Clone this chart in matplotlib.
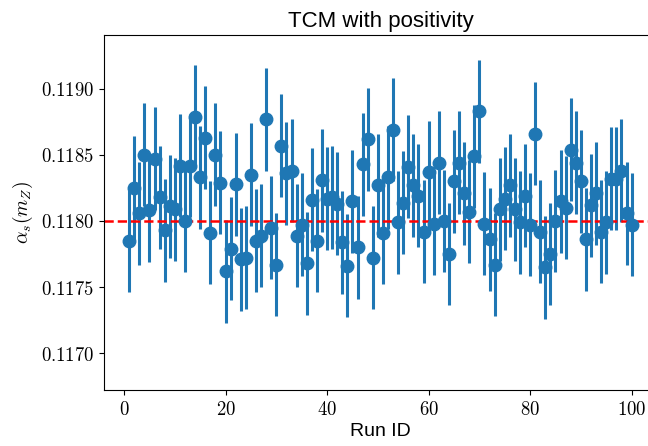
import numpy as np
import matplotlib
matplotlib.use("Agg")
import matplotlib.pyplot as plt
from matplotlib.ticker import FuncFormatter

# alpha_s(m_Z) fitted per replica run
run_id = list(range(1, 101))
alpha_s = [
    0.11785, 0.11825, 0.11806, 0.11850, 0.11808, 0.11847, 0.11818, 0.11793, 0.11811, 0.11809,
    0.11842, 0.11800, 0.11842, 0.11879, 0.11833, 0.11863, 0.11791, 0.11850, 0.11829, 0.11762,
    0.11779, 0.11828, 0.11771, 0.11772, 0.11835, 0.11785, 0.11789, 0.11877, 0.11795, 0.11767,
    0.11857, 0.11836, 0.11838, 0.11789, 0.11797, 0.11768, 0.11816, 0.11785, 0.11831, 0.11817,
    0.11818, 0.11813, 0.11784, 0.11766, 0.11815, 0.11780, 0.11843, 0.11862, 0.11772, 0.11827,
    0.11791, 0.11833, 0.11869, 0.11799, 0.11814, 0.11841, 0.11827, 0.11819, 0.11792, 0.11837,
    0.11798, 0.11844, 0.11800, 0.11775, 0.11830, 0.11844, 0.11821, 0.11807, 0.11849, 0.11883,
    0.11798, 0.11786, 0.11767, 0.11809, 0.11817, 0.11827, 0.11809, 0.11799, 0.11819, 0.11797,
    0.11866, 0.11792, 0.11765, 0.11775, 0.11800, 0.11815, 0.11810, 0.11854, 0.11844, 0.11830,
    0.11786, 0.11812, 0.11821, 0.11792, 0.11799, 0.11832, 0.11832, 0.11838, 0.11806, 0.11797,
]
err = 0.00039
alpha_ref = 0.118

plt.rcParams['mathtext.fontset'] = 'cm'

fig = plt.figure(figsize=(6.48, 4.46), dpi=100)
ax = fig.add_axes([0.1605, 0.1256, 0.853, 0.796])

ax.errorbar(run_id, alpha_s, yerr=err, fmt='o', color='#1f77b4',
            markersize=9, elinewidth=2.2, capsize=0)
ax.axhline(alpha_ref, color='red', linestyle='--', linewidth=1.8)

ax.set_xlim(-3.95, 104.95)
ax.set_ylim(0.11672, 0.119409)
ax.set_yticks([0.1170, 0.1175, 0.1180, 0.1185, 0.1190])
ax.set_xticks([0, 20, 40, 60, 80, 100])
ax.yaxis.set_major_formatter(FuncFormatter(lambda v, p: r'$%.4f$' % v))
ax.xaxis.set_major_formatter(FuncFormatter(lambda v, p: r'$%d$' % v))
ax.tick_params(labelsize=13.5)

ax.set_title('TCM with positivity', fontsize=16, family='Liberation Sans')
ax.set_xlabel('Run ID', fontsize=14, family='Liberation Sans', labelpad=3)
ax.set_ylabel(r'$\alpha_s(m_Z)$', fontsize=14)

fig.savefig('out.png', dpi=100)
